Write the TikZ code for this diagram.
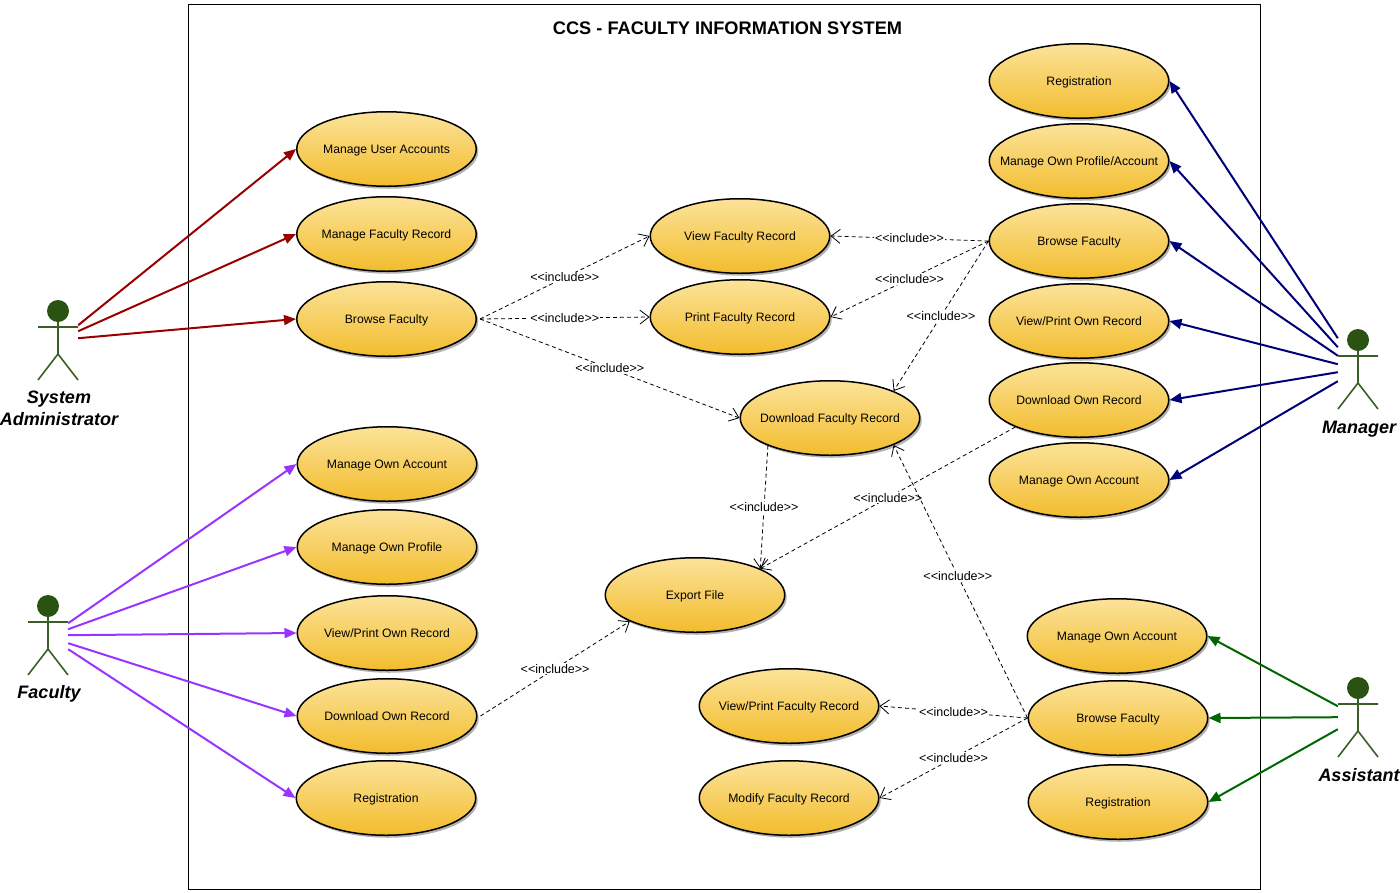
\documentclass[tikz,border=0pt]{standalone}
\usepackage{fontspec}
\setmainfont{Liberation Sans}
\usetikzlibrary{arrows.meta}
\usetikzlibrary{shapes.geometric}
\usetikzlibrary{shadows}
\definecolor{adminred}{HTML}{990000}
\definecolor{facultyviolet}{HTML}{9933FF}
\definecolor{managerblue}{HTML}{000078}
\definecolor{assistantgreen}{HTML}{006600}
\definecolor{actorgreen}{HTML}{3A5F26}
\definecolor{headgreen}{HTML}{2A5212}
\definecolor{yellowtop}{HTML}{FCE39A}
\definecolor{yellowbottom}{HTML}{F2BC2C}
\newcommand{\incl}{<{}<include>{}>}
\tikzset{
	ucase/.style={ellipse, draw=black, line width=1.5pt, minimum width=179.5pt, minimum height=74.5pt, inner ysep=0pt, inner xsep=-30pt,
		text height=8pt, text depth=0pt,
		top color=yellowtop, bottom color=yellowbottom, font=\fontsize{12.2}{14}\selectfont,
		drop shadow={shadow xshift=2pt, shadow yshift=-2.5pt, fill=black, opacity=.3}},
	actor/.style={minimum width=40pt, minimum height=80pt, inner sep=0pt, anchor=north},
	actorname/.style={font=\fontsize{18}{22}\selectfont\bfseries\itshape, align=center},
	assoc/.style={line width=2pt, -{Triangle[length=12pt,width=10pt]}},
	inc/.style={dash pattern=on 4pt off 3pt, line width=0.8pt, -{Straight Barb[length=9pt,width=14pt]}},
	inctext/.style={fill=white, inner sep=1pt, font=\fontsize{12.5}{14}\selectfont}
}
\begin{document}
\begin{tikzpicture}[x=1pt,y=-1pt]
\useasboundingbox (0.5,0.5) rectangle (1400.5,892.5);
\node[draw=black, line width=1pt, minimum width=1072pt, minimum height=885pt, inner sep=0pt] (system) at (725,447.5) {};
\node[font=\fontsize{18.2}{22}\selectfont\bfseries] (title) at (728,28.5) {CCS - FACULTY INFORMATION SYSTEM};

% actors
\foreach \name/\x/\y in {admin/58.5/300.5, faculty/48.5/595.5, manager/1358.5/329.5, assistant/1358.5/677.5}
{
	\node[actor] (\name) at (\x,\y) {};
	\fill[headgreen] (\x,\y+11) circle (11pt);
	\draw[actorgreen, line width=1.6pt] (\x-20,\y+27) -- (\x+20,\y+27)
		(\x,\y+22) -- (\x,\y+54) -- (\x-20,\y+80) (\x,\y+54) -- (\x+20,\y+80);
}
\node[actorname] (adminname) at (59.5,409) {System\\Administrator};
\node[actorname] (facultyname) at (49.5,694.5) {Faculty};
\node[actorname] (managername) at (1359.5,430) {Manager};
\node[actorname] (assistantname) at (1359.5,776) {Assistant};

% system administrator
\node[ucase] (userAccounts) at (387,149.5) {Manage User Accounts};
\node[ucase] (facultyRecord) at (387,234.5) {Manage Faculty Record};
\node[ucase] (adminBrowse) at (387,319.5) {Browse Faculty};
% faculty
\node[ucase] (ownAccount) at (387.5,464.5) {Manage Own Account};
\node[ucase] (ownProfile) at (387.5,547.5) {Manage Own Profile};
\node[ucase] (ownView) at (387.5,633.5) {View/Print Own Record};
\node[ucase] (ownDownload) at (387.5,716.5) {Download Own Record};
\node[ucase] (ownRegistration) at (386.5,798.5) {Registration};
% middle
\node[ucase] (viewRecord) at (740.5,236.5) {View Faculty Record};
\node[ucase] (printRecord) at (740.5,317.5) {Print Faculty Record};
\node[ucase] (downloadRecord) at (830.5,418.5) {Download Faculty Record};
\node[ucase] (exportFile) at (695.5,595.5) {Export File};
\node[ucase] (viewPrintRecord) at (789.5,706.5) {View/Print Faculty Record};
\node[ucase] (modifyRecord) at (789.5,798.5) {Modify Faculty Record};
% manager
\node[ucase] (mgrRegistration) at (1079.5,81.5) {Registration};
\node[ucase] (mgrProfile) at (1079.5,161.5) {Manage Own Profile/Account};
\node[ucase] (mgrBrowse) at (1079.5,241.5) {Browse Faculty};
\node[ucase] (mgrView) at (1079.5,321.5) {View/Print Own Record};
\node[ucase] (mgrDownload) at (1079.5,400.5) {Download Own Record};
\node[ucase] (mgrAccount) at (1079.5,480.5) {Manage Own Account};
% assistant
\node[ucase] (astAccount) at (1117.5,636.5) {Manage Own Account};
\node[ucase] (astBrowse) at (1118.5,718.5) {Browse Faculty};
\node[ucase] (astRegistration) at (1118.5,802.5) {Registration};

\path[assoc, adminred]
([yshift=15pt]admin.east) edge (userAccounts.west)
([yshift=9pt]admin.east) edge (facultyRecord.west)
([yshift=2pt]admin.east) edge (adminBrowse.west)
;
\path[assoc, facultyviolet]
([yshift=12pt]faculty.east) edge (ownAccount.west)
([yshift=6pt]faculty.east) edge (ownProfile.west)
(faculty.east) edge (ownView.west)
([yshift=-8pt]faculty.east) edge (ownDownload.west)
([yshift=-14pt]faculty.east) edge (ownRegistration.west)
;
\path[assoc, managerblue]
([yshift=31pt]manager.west) edge (mgrRegistration.east)
([yshift=22pt]manager.west) edge (mgrProfile.east)
([yshift=13.5pt]manager.west) edge (mgrBrowse.east)
([yshift=5pt]manager.west) edge (mgrView.east)
([yshift=-3pt]manager.west) edge (mgrDownload.east)
([yshift=-12pt]manager.west) edge (mgrAccount.east)
;
\path[assoc, assistantgreen]
([yshift=11pt]assistant.west) edge (astAccount.east)
(assistant.west) edge (astBrowse.east)
([yshift=-12pt]assistant.west) edge (astRegistration.east)
;

\path[inc]
([xshift=3pt]adminBrowse.east) edge node[inctext] {\incl} (viewRecord.west)
([xshift=3pt]adminBrowse.east) edge node[inctext] {\incl} (printRecord.west)
([xshift=3pt]adminBrowse.east) edge node[inctext] {\incl} (downloadRecord.west)
(mgrBrowse.west) edge node[inctext] {\incl} (viewRecord.east)
(mgrBrowse.west) edge node[inctext] {\incl} (printRecord.east)
(mgrBrowse.west) edge node[inctext] {\incl} (downloadRecord.23)
(downloadRecord.204) edge node[inctext] {\incl} (exportFile.22)
(mgrDownload.203) edge node[inctext] {\incl} (exportFile.22)
([xshift=3pt]ownDownload.east) edge node[inctext] {\incl} (exportFile.202)
(astBrowse.west) edge node[inctext] {\incl} (viewPrintRecord.east)
(astBrowse.west) edge node[inctext] {\incl} (modifyRecord.east)
(astBrowse.west) edge node[inctext, pos=.52] {\incl} (downloadRecord.-23)
;
\end{tikzpicture}
\end{document}
